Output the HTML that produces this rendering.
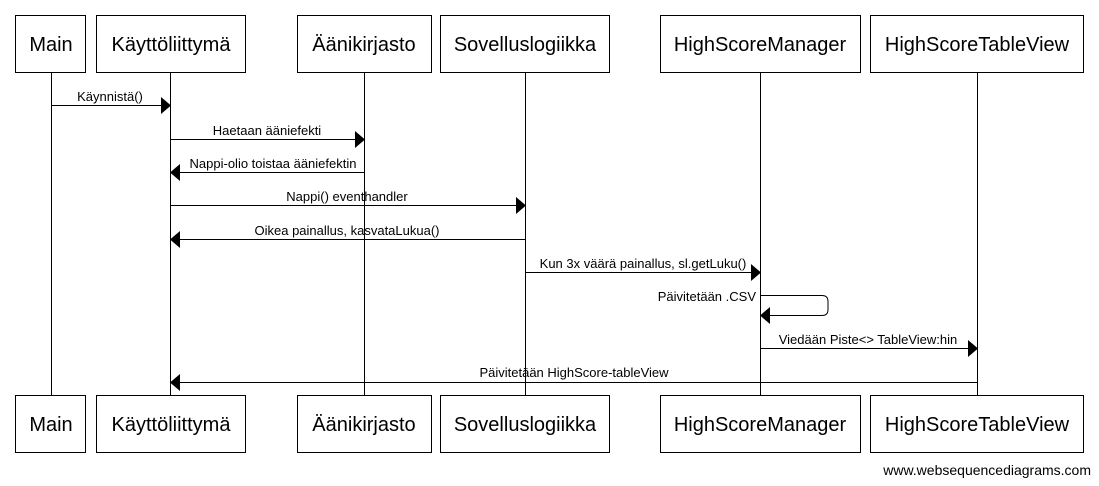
<!DOCTYPE html>
<html><head><meta charset="utf-8"><style>
html,body{margin:0;padding:0;background:#fff;width:1099px;height:486px;overflow:hidden}
text{font-family:"Liberation Sans",Arial,sans-serif;fill:#000}
.b{font-size:20px}
.m{font-size:13px}
</style></head><body>
<svg width="1099" height="486" xmlns="http://www.w3.org/2000/svg">
<g stroke="#000" stroke-width="1" fill="none">
<line x1="51.5" y1="72" x2="51.5" y2="395"/>
<line x1="170.5" y1="72" x2="170.5" y2="395"/>
<line x1="364.5" y1="72" x2="364.5" y2="395"/>
<line x1="525.5" y1="72" x2="525.5" y2="395"/>
<line x1="760.5" y1="72" x2="760.5" y2="395"/>
<line x1="977.5" y1="72" x2="977.5" y2="395"/>
</g>
<g stroke="#000" fill="#fff">
<rect x="15.5" y="15.5" width="70" height="57"/>
<rect x="96.5" y="15.5" width="149" height="57"/>
<rect x="297.5" y="15.5" width="134" height="57"/>
<rect x="440.5" y="15.5" width="169" height="57"/>
<rect x="660.5" y="15.5" width="200" height="57"/>
<rect x="870.5" y="15.5" width="213" height="57"/>
<rect x="15.5" y="395.5" width="70" height="57"/>
<rect x="96.5" y="395.5" width="149" height="57"/>
<rect x="297.5" y="395.5" width="134" height="57"/>
<rect x="440.5" y="395.5" width="169" height="57"/>
<rect x="660.5" y="395.5" width="200" height="57"/>
<rect x="870.5" y="395.5" width="213" height="57"/>
</g>
<g class="b" text-anchor="middle">
<text x="51" y="51">Main</text><text x="171" y="51">Käyttöliittymä</text><text x="364" y="51">Äänikirjasto</text><text x="525" y="51">Sovelluslogiikka</text><text x="760" y="51">HighScoreManager</text><text x="977" y="51">HighScoreTableView</text>
<text x="51" y="431">Main</text><text x="171" y="431">Käyttöliittymä</text><text x="364" y="431">Äänikirjasto</text><text x="525" y="431">Sovelluslogiikka</text><text x="760" y="431">HighScoreManager</text><text x="977" y="431">HighScoreTableView</text>
</g>
<g stroke="#000" fill="none">
<line x1="51" y1="105.5" x2="162" y2="105.5"/>
<line x1="170" y1="139.5" x2="356" y2="139.5"/>
<line x1="178" y1="172.5" x2="364" y2="172.5"/>
<line x1="170" y1="205.5" x2="517" y2="205.5"/>
<line x1="178" y1="239.5" x2="525" y2="239.5"/>
<line x1="525" y1="272.5" x2="752" y2="272.5"/>
<path d="M760 295.5 H822 Q828 295.5 828 301.5 V309.5 Q828 315.5 822 315.5 H768"/>
<line x1="760" y1="348.5" x2="969" y2="348.5"/>
<line x1="178" y1="382.5" x2="977" y2="382.5"/>
</g>
<g fill="#000">
<polygon points="171,105.5 161,97 161,114"/>
<polygon points="365,139.5 355,131 355,148"/>
<polygon points="170,172.5 180,164 180,181"/>
<polygon points="526,205.5 516,197 516,214"/>
<polygon points="170,239.5 180,231 180,248"/>
<polygon points="761,272.5 751,264 751,281"/>
<polygon points="760,315.5 770,307 770,324"/>
<polygon points="978,348.5 968,340 968,357"/>
<polygon points="170,382.5 180,374 180,391"/>
</g>
<g class="m" text-anchor="middle">
<text x="110" y="101">Käynnistä()</text>
<text x="267" y="135">Haetaan ääniefekti</text>
<text x="273" y="168">Nappi-olio toistaa ääniefektin</text>
<text x="347" y="201">Nappi() eventhandler</text>
<text x="347" y="235">Oikea painallus, kasvataLukua()</text>
<text x="643" y="268">Kun 3x väärä painallus, sl.getLuku()</text>
<text x="868" y="344">Viedään Piste&lt;&gt; TableView:hin</text>
<text x="574" y="377">Päivitetään HighScore-tableView</text>
</g>
<text class="m" x="756" y="301" text-anchor="end">Päivitetään .CSV</text>
<text x="1091" y="475" text-anchor="end" style="font-size:14px">www.websequencediagrams.com</text>
</svg>
</body></html>
